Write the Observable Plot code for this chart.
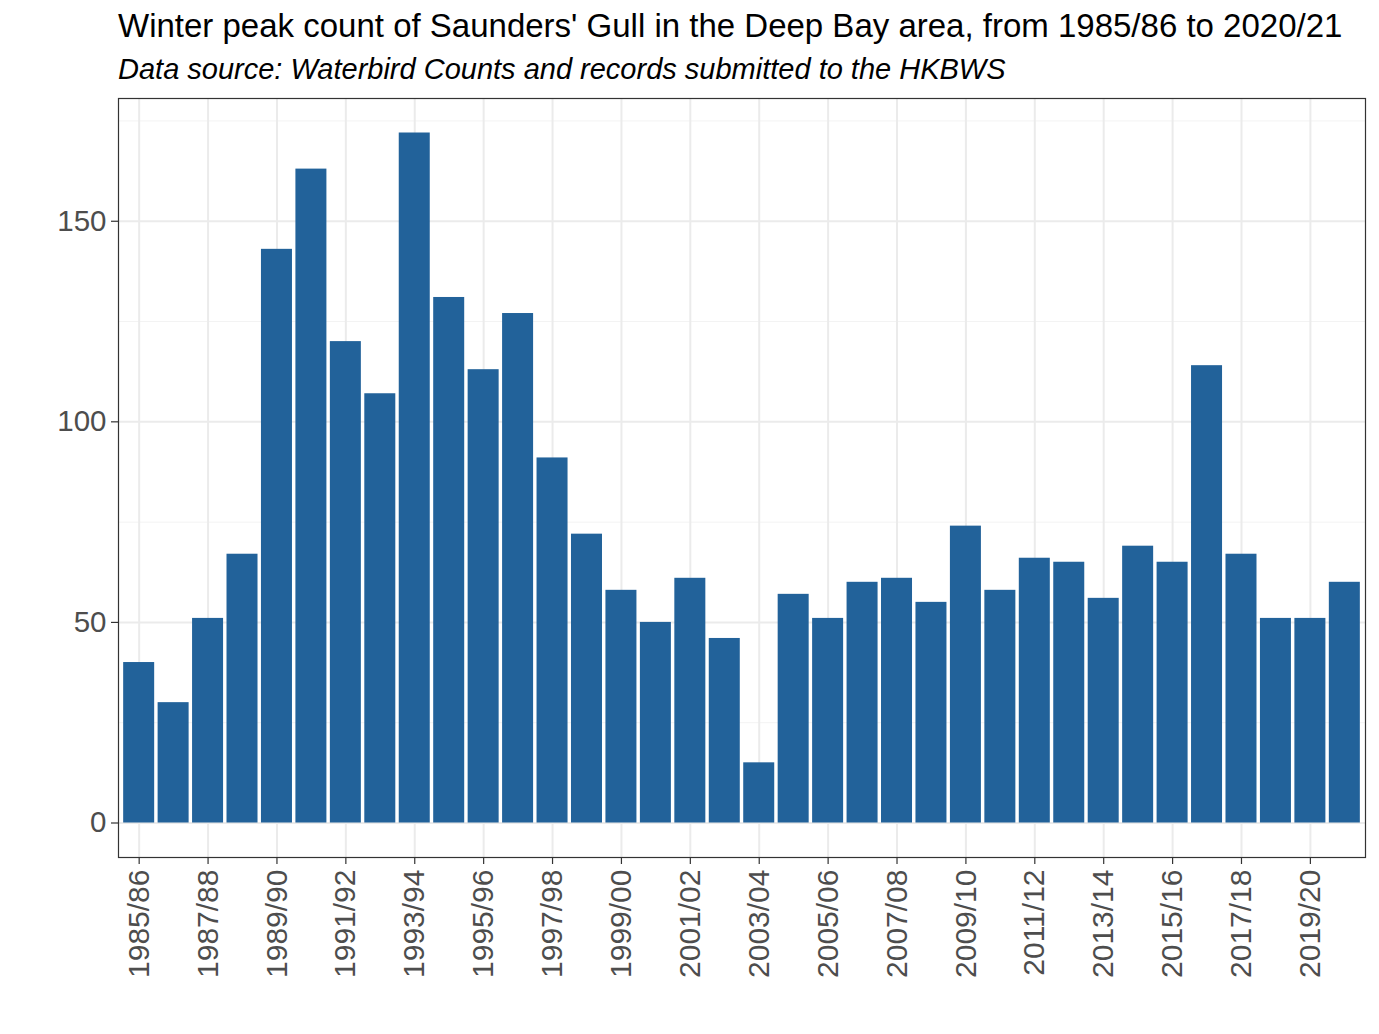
<!DOCTYPE html>
<html>
<head>
<meta charset="utf-8">
<script src="https://cdn.jsdelivr.net/npm/d3@7"></script>
<script src="https://cdn.jsdelivr.net/npm/@observablehq/plot@0.6"></script>
<style>
  html, body { margin: 0; padding: 0; background: #ffffff; }
  #wrap { position: relative; width: 1379px; font-family: "Liberation Sans", Arial, sans-serif; }
  #head { position: relative; height: 86px; }
  #title { position: absolute; left: 118px; top: 9px; font-size: 33px; line-height: 33px; color: #000; white-space: nowrap; }
  #subtitle { position: absolute; left: 118px; top: 55px; font-size: 29px; line-height: 29px; font-style: italic; color: #000; white-space: nowrap; }
  svg { display: block; }
</style>
</head>
<body>
<div id="wrap">
  <div id="head">
    <div id="title">Winter peak count of Saunders' Gull in the Deep Bay area, from 1985/86 to 2020/21</div>
    <div id="subtitle">Data source: Waterbird Counts and records submitted to the HKBWS</div>
  </div>
  <div id="chart"></div>
</div>
<script>
const seasons = [
  "1985/86","1986/87","1987/88","1988/89","1989/90","1990/91","1991/92","1992/93","1993/94",
  "1994/95","1995/96","1996/97","1997/98","1998/99","1999/00","2000/01","2001/02","2002/03",
  "2003/04","2004/05","2005/06","2006/07","2007/08","2008/09","2009/10","2010/11","2011/12",
  "2012/13","2013/14","2014/15","2015/16","2016/17","2017/18","2018/19","2019/20","2020/21"
];
const counts = [
  40, 30, 51, 67, 143, 163, 120, 107, 172,
  131, 113, 127, 91, 72, 58, 50, 61, 46,
  15, 57, 51, 60, 61, 55, 74, 58, 66,
  65, 56, 69, 65, 114, 67, 51, 51, 60
];
const xTickLabels = [
  "1985/86","1987/88","1989/90","1991/92","1993/94","1995/96","1997/98","1999/00","2001/02",
  "2003/04","2005/06","2007/08","2009/10","2011/12","2013/14","2015/16","2017/18","2019/20"
];
const yMajor = [0, 50, 100, 150];
const yMinor = [25, 75, 125, 175];

const data = seasons.map((s, i) => ({season: s, count: counts[i]}));

const chart = Plot.plot({
  width: 1379,
  height: 948,
  marginTop: 12,
  marginLeft: 118,
  marginRight: 14,
  marginBottom: 177,
  style: {fontFamily: "'Liberation Sans', Arial, sans-serif", background: "#ffffff"},
  x: {domain: seasons, type: "band", paddingInner: 0.1, paddingOuter: 0.15, round: false, axis: null},
  y: {domain: [-8.6, 180.6], axis: null},
  marks: [
    Plot.ruleY(yMinor, {y: d => d, stroke: "#f3f3f3", strokeWidth: 1}),
    Plot.ruleY(yMajor, {y: d => d, stroke: "#ebebeb", strokeWidth: 2}),
    Plot.ruleX(xTickLabels, {x: d => d, stroke: "#ebebeb", strokeWidth: 2}),
    Plot.barY(data, {x: "season", y: "count", fill: "#22629a"}),
    Plot.frame({stroke: "#333333", strokeWidth: 1.2}),
    Plot.axisY({
      ticks: yMajor, tickSize: 7, tickPadding: 5, fontSize: 29.5,
      color: "#4d4d4d", stroke: "#333333", strokeWidth: 1.2, label: null, anchor: "left"
    }),
    Plot.axisX({
      ticks: xTickLabels, tickSize: 7, tickPadding: 5, fontSize: 30, tickRotate: -90,
      color: "#4d4d4d", stroke: "#333333", strokeWidth: 1.2, label: null, anchor: "bottom"
    })
  ]
});
document.getElementById("chart").appendChild(chart);
</script>
</body>
</html>
